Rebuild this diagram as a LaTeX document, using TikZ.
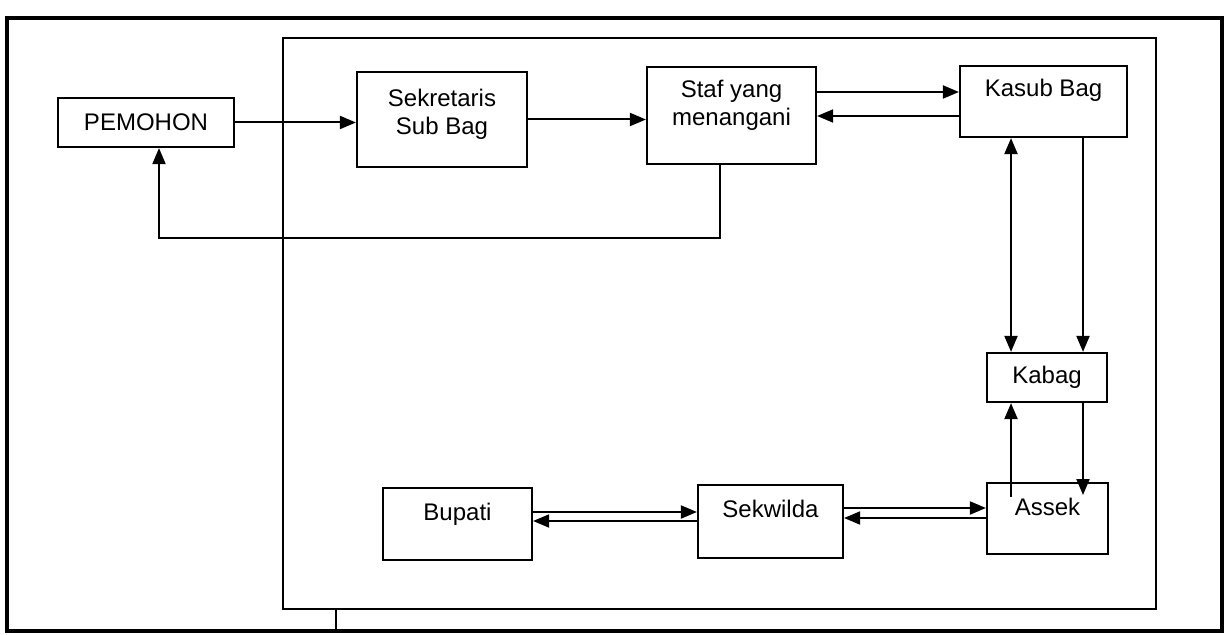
\documentclass[tikz,border=0pt]{standalone}
\usepackage{fontspec}
\setmainfont{Liberation Sans}
\usetikzlibrary{arrows.meta}
\begin{document}
\begin{tikzpicture}[x=0.5pt,y=-0.5pt,
  box/.style={draw,line width=1.1pt,rectangle,inner sep=0pt},
  lblfont/.style={font=\fontsize{12}{14}\selectfont},
  lbl/.style={inner sep=0pt,lblfont,align=center},
  arr/.style={line width=1pt,-{Triangle[length=8pt,width=6.5pt]}},
  darr/.style={line width=1pt,{Triangle[length=8pt,width=6.5pt]}-{Triangle[length=8pt,width=6.5pt]}},
  frame/.style={draw,line width=1.1pt}]
\useasboundingbox (0,0) rectangle (1229,635);
% frames
\draw[line width=1.6pt] (7,18) rectangle (1222,631);
\draw[frame] (283,38) rectangle (1156,609);
\coordinate (stubtop) at (336,609);
\coordinate (stubbot) at (336,631);
\draw[line width=1.1pt] (stubtop) -- (stubbot);
% helper levels
\coordinate (y92) at (0,92);
\coordinate (y116) at (0,116);
\coordinate (y508) at (0,508);
\coordinate (y518) at (0,518);
\coordinate (y512) at (0,512);
\coordinate (y521) at (0,521);
\coordinate (x1011) at (1011,0);
\coordinate (x1083) at (1083,0);
\coordinate (x720) at (720,0);
\coordinate (ret) at (159,238);
\coordinate (as1) at (1011,497);
\coordinate (as2) at (1083,495);
% boxes
\node[box,lblfont,minimum width=88pt,minimum height=24.5pt] (pem) at (146,122.5) {PEMOHON};
\node[box,minimum width=85pt,minimum height=47.5pt] (sek) at (442,119.5) {};
\node[lbl] (sekT) at (442,114.5) {Sekretaris\\Sub Bag};
\node[box,minimum width=84.5pt,minimum height=48.5pt] (staf) at (731.5,115.5) {};
\node[lbl] (stafT) at (731.5,105) {Staf yang\\menangani};
\node[box,minimum width=83.5pt,minimum height=35.5pt] (kasub) at (1043.5,101.5) {};
\node[lbl,anchor=base] (kasubT) at (1043.5,97) {Kasub Bag};
\node[box,lblfont,minimum width=60pt,minimum height=24.5pt] (kabag) at (1047,377.5) {Kabag};
\node[box,minimum width=60.5pt,minimum height=35.5pt] (assek) at (1047.5,518.5) {};
\node[lbl,anchor=base] (assekT) at (1047.5,515) {Assek};
\node[box,minimum width=74.5pt,minimum height=36pt] (bupati) at (457.5,524) {};
\node[lbl,anchor=base] (bupatiT) at (457.5,520) {Bupati};
\node[box,minimum width=72.5pt,minimum height=36.5pt] (sekw) at (770.5,521.5) {};
\node[lbl,anchor=base] (sekwT) at (770.5,517) {Sekwilda};
% connectors
\draw[arr] (pem.east) -- (pem.east -| sek.west);
\draw[arr] (sek.east) -- (sek.east -| staf.west);
\draw[arr] (staf.east |- y92) -- (kasub.west |- y92);
\draw[arr] (kasub.west |- y116) -- (staf.east |- y116);
\draw[darr] (kasub.south -| x1011) -- (kabag.north -| x1011);
\draw[arr] (kasub.south -| x1083) -- (kabag.north -| x1083);
\draw[arr] (as1) -- (kabag.south -| x1011);
\draw[arr] (kabag.south -| x1083) -- (as2);
\draw[arr] (sekw.east |- y508) -- (assek.west |- y508);
\draw[arr] (assek.west |- y518) -- (sekw.east |- y518);
\draw[arr] (bupati.east |- y512) -- (sekw.west |- y512);
\draw[arr] (sekw.west |- y521) -- (bupati.east |- y521);
\draw[arr] (staf.south -| x720) -- (x720 |- ret) -- (ret) -- (pem.south -| ret);
\end{tikzpicture}
\end{document}
